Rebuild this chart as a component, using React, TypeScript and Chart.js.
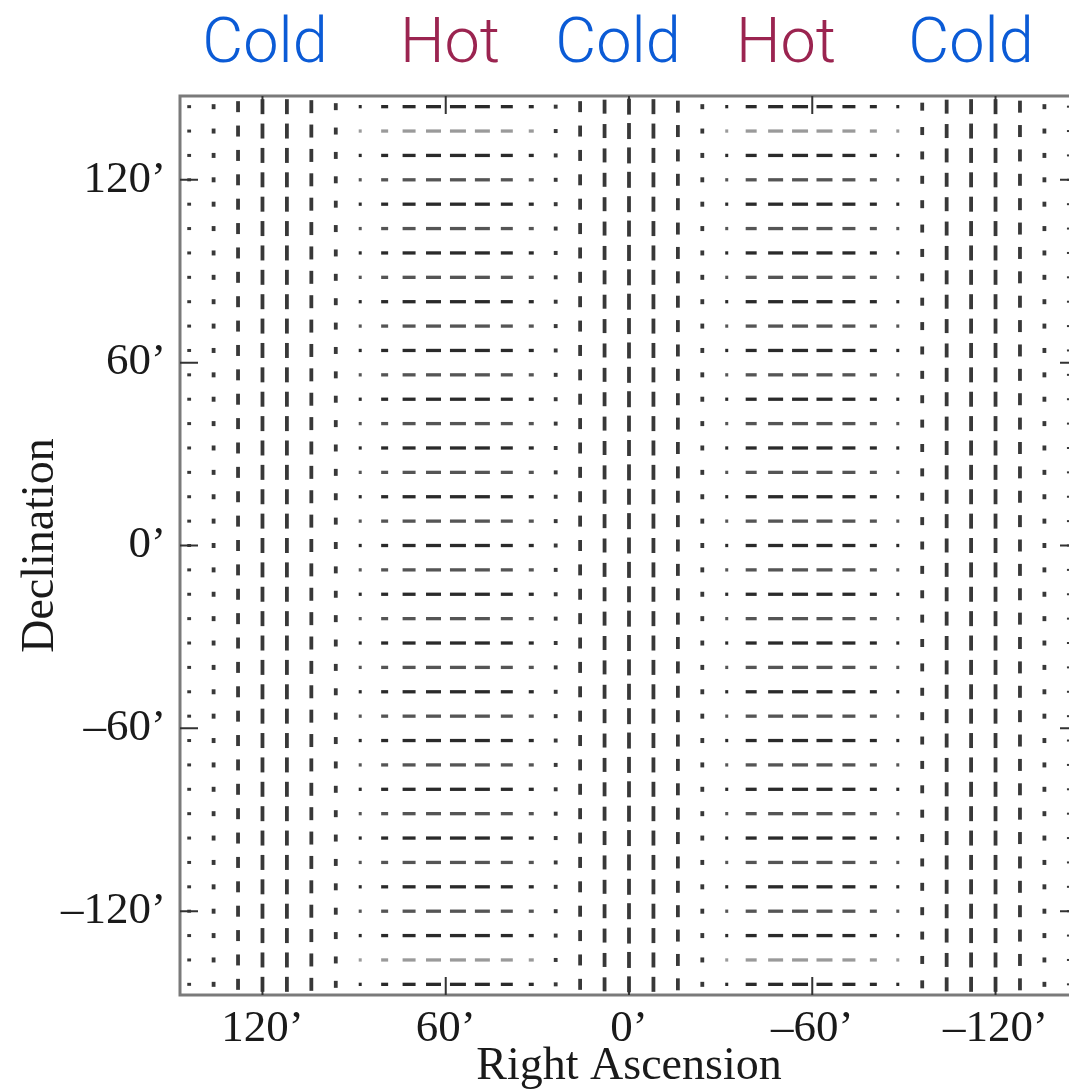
import React, { useEffect, useRef } from 'react';
import { Chart, registerables } from 'chart.js';

Chart.register(...registerables);

// ---- data ----
const RA_COLUMNS = [144, 136, 128, 120, 112, 104, 96, 88, 80, 72, 64, 56, 48, 40, 32, 24, 16, 8, 0, -8, -16, -24, -32, -40, -48, -56, -64, -72, -80, -88, -96, -104, -112, -120, -128, -136, -144];
const DEC_ROWS = [144, 136, 128, 120, 112, 104, 96, 88, 80, 72, 64, 56, 48, 40, 32, 24, 16, 8, 0, -8, -16, -24, -32, -40, -48, -56, -64, -72, -80, -88, -96, -104, -112, -120, -128, -136, -144];
// polarization amplitude per RA column (arbitrary units)
const POL_AMPLITUDE = [3, 5, 11, 15, 15, 13, 7, 3, 7, 13, 15, 16, 15, 12, 5, 4, 11, 14, 16, 15, 12, 5, 3, 11, 15, 16, 16, 13, 7, 3, 8, 14, 15, 15, 12, 5, 2];
// polarization angle per RA column (degrees, 0 = horizontal, 90 = vertical)
const POL_ANGLE = [90, 90, 90, 90, 90, 90, 90, 0, 0, 0, 0, 0, 0, 0, 0, 90, 90, 90, 90, 90, 90, 90, 0, 0, 0, 0, 0, 0, 0, 0, 90, 90, 90, 90, 90, 90, 90];
const X_TICKS = [120, 60, 0, -60, -120];
const Y_TICKS = [120, 60, 0, -60, -120];
const TOP_LABELS = ['Cold', 'Hot', 'Cold', 'Hot', 'Cold'];

// ---- style ----
const LEN_SCALE = 1;
const LABEL_CENTERS = [265, 450, 618, 786, 971];
const COLD_COLOR = '#0b5bd6';
const HOT_COLOR = '#9b2450';
const SERIF = '"Liberation Serif", "Times New Roman", serif';

const fmt = (v: number) => (v < 0 ? '\u2013' + Math.abs(v) : String(v)) + '\u2019';

const framePlugin = {
  id: 'frame',
  afterDatasetsDraw(chart: any) {
    const { ctx, chartArea: a, scales } = chart;
    const x = scales.x;
    const y = scales.y;
    ctx.save();
    ctx.strokeStyle = '#7a7a7a';
    ctx.lineWidth = 3;
    ctx.strokeRect(a.left, a.top, a.right - a.left, a.bottom - a.top);
    ctx.strokeStyle = '#333';
    ctx.lineWidth = 2;
    const L = 18;
    ctx.beginPath();
    X_TICKS.forEach((v) => {
      const px = x.getPixelForValue(v);
      ctx.moveTo(px, a.bottom);
      ctx.lineTo(px, a.bottom - L);
      ctx.moveTo(px, a.top);
      ctx.lineTo(px, a.top + L);
    });
    Y_TICKS.forEach((v) => {
      const py = y.getPixelForValue(v);
      ctx.moveTo(a.left, py);
      ctx.lineTo(a.left + L, py);
      ctx.moveTo(a.right, py);
      ctx.lineTo(a.right - L, py);
    });
    ctx.stroke();

    ctx.font = '300 63px "Roboto Light", Roboto, "Liberation Sans", sans-serif';
    ctx.textAlign = 'center';
    ctx.textBaseline = 'alphabetic';
    TOP_LABELS.forEach((t, i) => {
      ctx.fillStyle = t === 'Cold' ? COLD_COLOR : HOT_COLOR;
      ctx.fillText(t, LABEL_CENTERS[i], 62);
    });
    ctx.restore();
  },
};

export default function App() {
  const ref = useRef<HTMLCanvasElement | null>(null);

  useEffect(() => {
    if (!ref.current) return;
    const points: any[] = [];
    DEC_ROWS.forEach((dec, r) => {
      RA_COLUMNS.forEach((ra, c) => {
        points.push({ x: ra, y: dec, amp: POL_AMPLITUDE[c], ang: POL_ANGLE[c], row: r });
      });
    });

    const colorFor = (c: any) => {
      const p = c.raw;
      if (!p) return '#333';
      if (p.ang === 90) return '#383838';
      if (p.row === 1 || p.row === 35) return '#9a9a9a';
      return p.row % 2 === 0 ? '#2a2a2a' : '#555555';
    };

    const chart = new Chart(ref.current, {
      type: 'scatter',
      data: {
        datasets: [
          {
            data: points,
            pointStyle: 'line',
            pointRadius: (c: any) => (c.raw ? (c.raw.amp * LEN_SCALE) / 2 : 3),
            pointHoverRadius: (c: any) => (c.raw ? (c.raw.amp * LEN_SCALE) / 2 : 3),
            pointRotation: (c: any) => (c.raw ? c.raw.ang : 0),
            pointBorderWidth: (c: any) => (c.raw && c.raw.ang === 90 ? 3.8 : 3.3),
            pointHoverBorderWidth: (c: any) => (c.raw && c.raw.ang === 90 ? 3.8 : 3.3),
            pointBorderColor: colorFor,
            pointBackgroundColor: colorFor,
            pointHoverBorderColor: colorFor,
          } as any,
        ],
      },
      options: {
        responsive: false,
        devicePixelRatio: 1,
        animation: false,
        events: [],
        layout: { padding: { top: 96, right: 22, left: 0, bottom: 0 } },
        plugins: { legend: { display: false }, tooltip: { enabled: false } },
        scales: {
          x: {
            type: 'linear',
            position: 'bottom',
            reverse: true,
            min: -147,
            max: 147,
            afterBuildTicks: (s: any) => {
              s.ticks = X_TICKS.map((v) => ({ value: v }));
            },
            afterFit: (s: any) => {
              s.height = 95;
            },
            grid: { display: false, drawTicks: false },
            border: { display: false },
            ticks: {
              autoSkip: false,
              maxRotation: 0,
              padding: 7,
              color: '#1a1a1a',
              font: { family: SERIF, size: 45 },
              callback: (v: any) => fmt(Number(v)),
            },
            title: {
              display: true,
              text: 'Right Ascension',
              color: '#1a1a1a',
              font: { family: SERIF, size: 46, lineHeight: 1 },
              padding: { top: 0, bottom: 0 },
            },
          },
          y: {
            type: 'linear',
            position: 'left',
            min: -147.5,
            max: 147.5,
            afterBuildTicks: (s: any) => {
              s.ticks = Y_TICKS.map((v) => ({ value: v }));
            },
            afterFit: (s: any) => {
              s.width = 180;
            },
            grid: { display: false, drawTicks: false },
            border: { display: false },
            ticks: {
              autoSkip: false,
              padding: 14,
              color: '#1a1a1a',
              font: { family: SERIF, size: 45 },
              callback: (v: any) => fmt(Number(v)),
            },
            title: {
              display: true,
              text: 'Declination',
              color: '#1a1a1a',
              font: { family: SERIF, size: 46, lineHeight: 1 },
              padding: { top: 18, bottom: 0 },
            },
          },
        },
      } as any,
      plugins: [framePlugin],
    });
    return () => chart.destroy();
  }, []);

  return (
    <div style={{ position: 'absolute', left: 0, top: 0, width: 1069, height: 1090, overflow: 'hidden', background: '#fff' }}>
      <canvas ref={ref} width={1100} height={1090} style={{ display: 'block', width: 1100, height: 1090 }} />
    </div>
  );
}
